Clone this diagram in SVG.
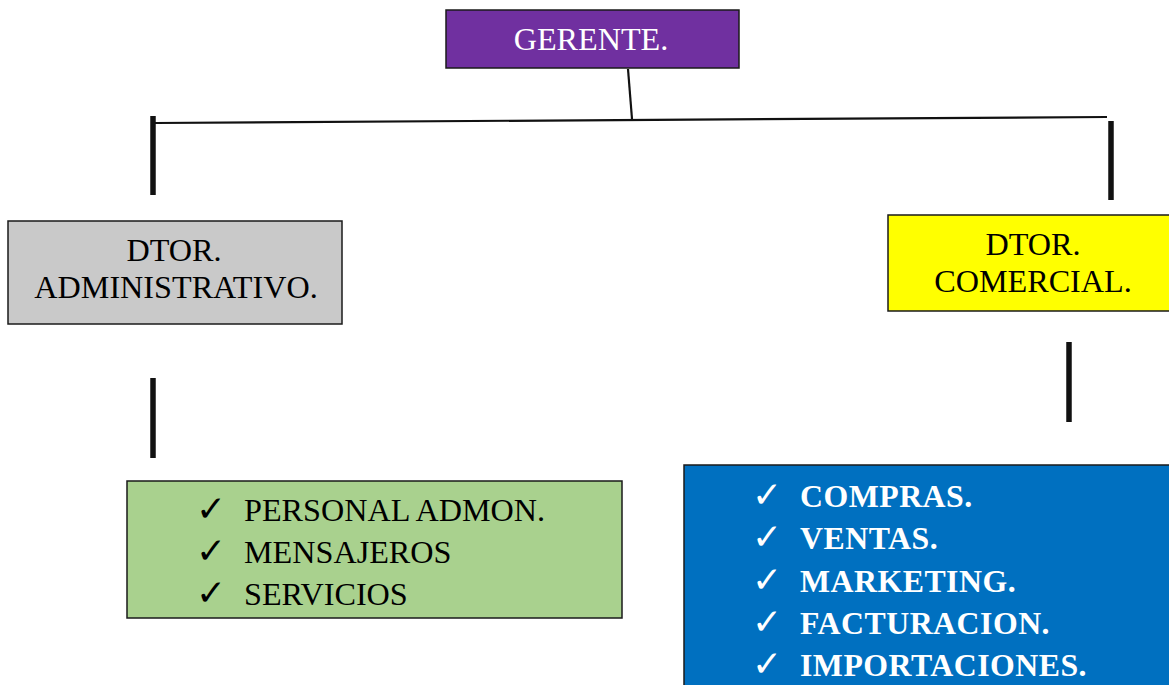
<svg xmlns="http://www.w3.org/2000/svg" width="1169" height="685" viewBox="0 0 1169 685">
<style>
.box{stroke:#1a1a1a;stroke-width:1.5}
.t{font-family:"Liberation Serif","Times New Roman",serif;font-size:32.2px}
.tb{font-family:"Liberation Serif","Times New Roman",serif;font-size:31.8px;font-weight:bold;fill:#fff;letter-spacing:0.5px}
.ck{font-family:"DejaVu Sans",sans-serif;font-size:36px}
.thin{stroke:#111;stroke-width:2.2;fill:none}
.thick{stroke:#111;stroke-width:5.5;fill:none}
</style>
<rect width="1169" height="685" fill="#fff"/>
<g id="connectors">
<line class="thin" x1="628" y1="69" x2="632" y2="119"/>
<line class="thin" x1="155" y1="123" x2="1107" y2="117"/>
<line class="thick" x1="153" y1="116" x2="153" y2="195"/>
<line class="thick" x1="1111" y1="121" x2="1111" y2="200"/>
<line class="thick" x1="153" y1="378" x2="153" y2="458"/>
<line class="thick" x1="1069" y1="342" x2="1069" y2="422"/>
</g>
<g id="gerente">
<rect class="box" x="446" y="10" width="293" height="58" fill="#7030A0"/>
<text class="t" x="591" y="50" text-anchor="middle" fill="#fff">GERENTE.</text>
</g>
<g id="dtor-admin">
<rect class="box" x="8" y="221" width="334" height="103" fill="#C9C9C9"/>
<text class="t" x="174" y="261" text-anchor="middle">DTOR.</text>
<text class="t" x="176" y="298" text-anchor="middle">ADMINISTRATIVO.</text>
</g>
<g id="dtor-comercial">
<rect class="box" x="888" y="215" width="292" height="96" fill="#FFFF00"/>
<text class="t" x="1033" y="255" text-anchor="middle">DTOR.</text>
<text class="t" x="1033" y="292" text-anchor="middle">COMERCIAL.</text>
</g>
<g id="admin-list">
<rect class="box" x="127" y="481" width="495" height="137" fill="#A9D18E"/>
<text class="ck" x="196" y="521">✓</text>
<text class="t" x="244" y="521">PERSONAL ADMON.</text>
<text class="ck" x="196" y="563">✓</text>
<text class="t" x="244" y="563">MENSAJEROS</text>
<text class="ck" x="196" y="605">✓</text>
<text class="t" x="244" y="605">SERVICIOS</text>
</g>
<g id="comercial-list">
<rect class="box" x="684" y="465" width="500" height="230" fill="#0070C0"/>
<g fill="#fff">
<text class="ck" x="752" y="507">✓</text>
<text class="ck" x="752" y="549">✓</text>
<text class="ck" x="752" y="592">✓</text>
<text class="ck" x="752" y="634">✓</text>
<text class="ck" x="752" y="676">✓</text>
</g>
<text class="tb" x="800" y="507">COMPRAS.</text>
<text class="tb" x="800" y="549">VENTAS.</text>
<text class="tb" x="800" y="592">MARKETING.</text>
<text class="tb" x="800" y="634">FACTURACION.</text>
<text class="tb" x="800" y="676">IMPORTACIONES.</text>
</g>
</svg>
